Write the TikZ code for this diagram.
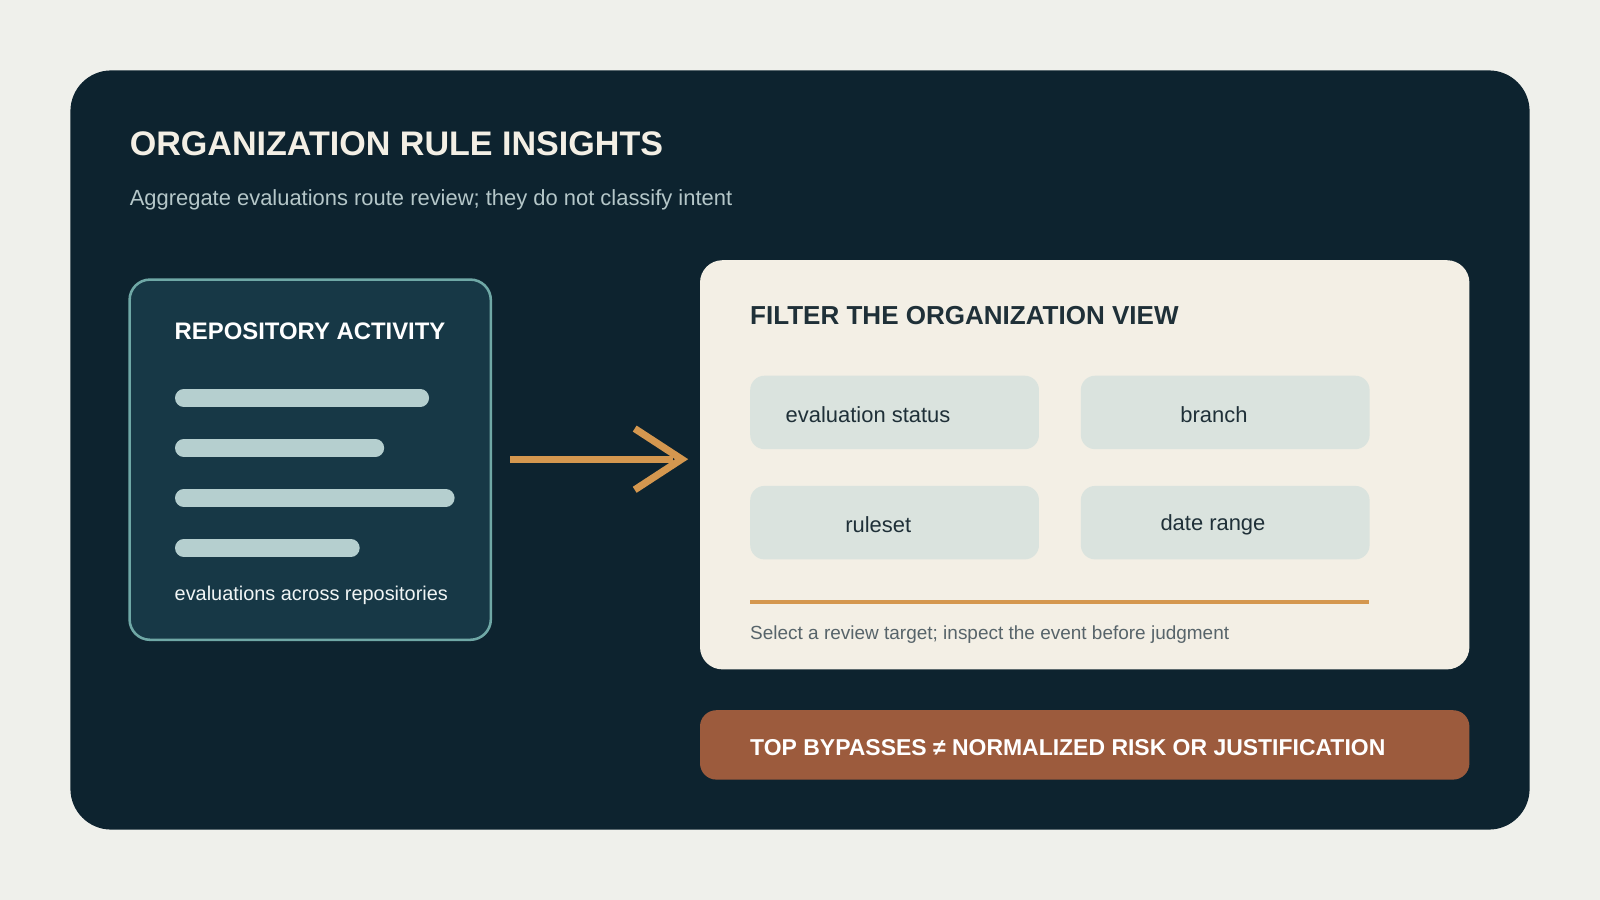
\documentclass[tikz,border=0pt]{standalone}
\usepackage{fontspec}
\setmainfont{Liberation Sans}
\usetikzlibrary{positioning}
\definecolor{page}{HTML}{EFF0EB}
\definecolor{panel}{HTML}{0D232F}
\definecolor{cardbg}{HTML}{173846}
\definecolor{cardedge}{HTML}{6FA8A6}
\definecolor{barcol}{HTML}{B5CFCF}
\definecolor{cream}{HTML}{F3EFE5}
\definecolor{chipbg}{HTML}{DAE3DE}
\definecolor{ink}{HTML}{1F3038}
\definecolor{amber}{HTML}{D4974F}
\definecolor{rust}{HTML}{9C5B3D}
\definecolor{subtxt}{HTML}{B5C7C9}
\tikzset{
  fs/.style={font=\fontsize{#1}{#1}\selectfont, inner sep=0pt},
  bfs/.style={font=\fontsize{#1}{#1}\selectfont\bfseries, inner sep=0pt},
  chip/.style={fill=chipbg, rounded corners=14pt, minimum width=283pt, minimum height=72pt, inner sep=0pt},
  chiptxt/.style={fs=21.5, text=ink},
  bar/.style={line width=17pt, line cap=round, color=barcol},
}
\begin{document}
\begin{tikzpicture}[x=1pt, y=-1pt]
			\fill[page] (0,0) rectangle (1568,882);
			\useasboundingbox (0,0) rectangle (1568,882);
			\fill[panel, rounded corners=40pt] (69,69) rectangle (1499,813);

			% Heading
			\node[anchor=base west, bfs=33.4, text=cream] (title) at (127,152) {ORGANIZATION RULE INSIGHTS};
			\node[anchor=base west, fs=21.5, text=subtxt] (subtitle) at (127,201) {Aggregate evaluations route review; they do not classify intent};

			% Left card
			\draw[fill=cardbg, draw=cardedge, line width=2.5pt, rounded corners=20pt] (127,274) rectangle (481,627);
			\node[anchor=base west, bfs=23.4, text=white] (repo) at (171,333) {REPOSITORY ACTIVITY};
			\foreach \y/\x in {390/421, 439/377, 488/446, 537/353}
			\draw[bar] (180,\y) -- (\x-9,\y);
			\node[anchor=base west, fs=19.5, text=white!80!barcol] (across) at (171,588) {evaluations across repositories};

			% Arrow
			\coordinate (from) at (500,450);
			\coordinate (to) at (660,450);
			\draw[amber, line width=7pt] (from) -- (to);
			\draw[amber, line width=7pt] (622,420) -- (668,450) -- (622,480);

			% Right card
			\fill[cream, rounded corners=22pt] (686,255) rectangle (1440,656);
			\node[anchor=base west, bfs=25.5, text=ink] (filter) at (735,318) {FILTER THE ORGANIZATION VIEW};
			\node[chip, anchor=north west] (status) at (735,368) {};
			\node[chip, anchor=north west] (branch) at (1059,368) {};
			\node[chip, anchor=north west] (ruleset) at (735,476) {};
			\node[chip, anchor=north west] (dates) at (1059,476) {};
			\node[chiptxt] at ([xshift=-26pt, yshift=-2pt]status.center) {evaluation status};
			\node[chiptxt] at ([xshift=-11pt, yshift=-2pt]branch.center) {branch};
			\node[chiptxt] at ([xshift=-16pt, yshift=-2pt]ruleset.center) {ruleset};
			\node[chiptxt] at ([xshift=-12pt, yshift=-2pt]dates.center) {date range};
			\draw[amber, line width=4pt] (735,590) -- (1342,590);
			\node[anchor=base west, fs=18.6, text=ink!75] (hint) at (735,627) {Select a review target; inspect the event before judgment};

			% Banner
			\fill[rust, rounded corners=16pt] (686,696) rectangle (1440,764);
			\node[anchor=base west, bfs=22.5, text=white] (warn) at (735,740) {TOP BYPASSES ≠ NORMALIZED RISK OR JUSTIFICATION};
		\end{tikzpicture}
\end{document}
